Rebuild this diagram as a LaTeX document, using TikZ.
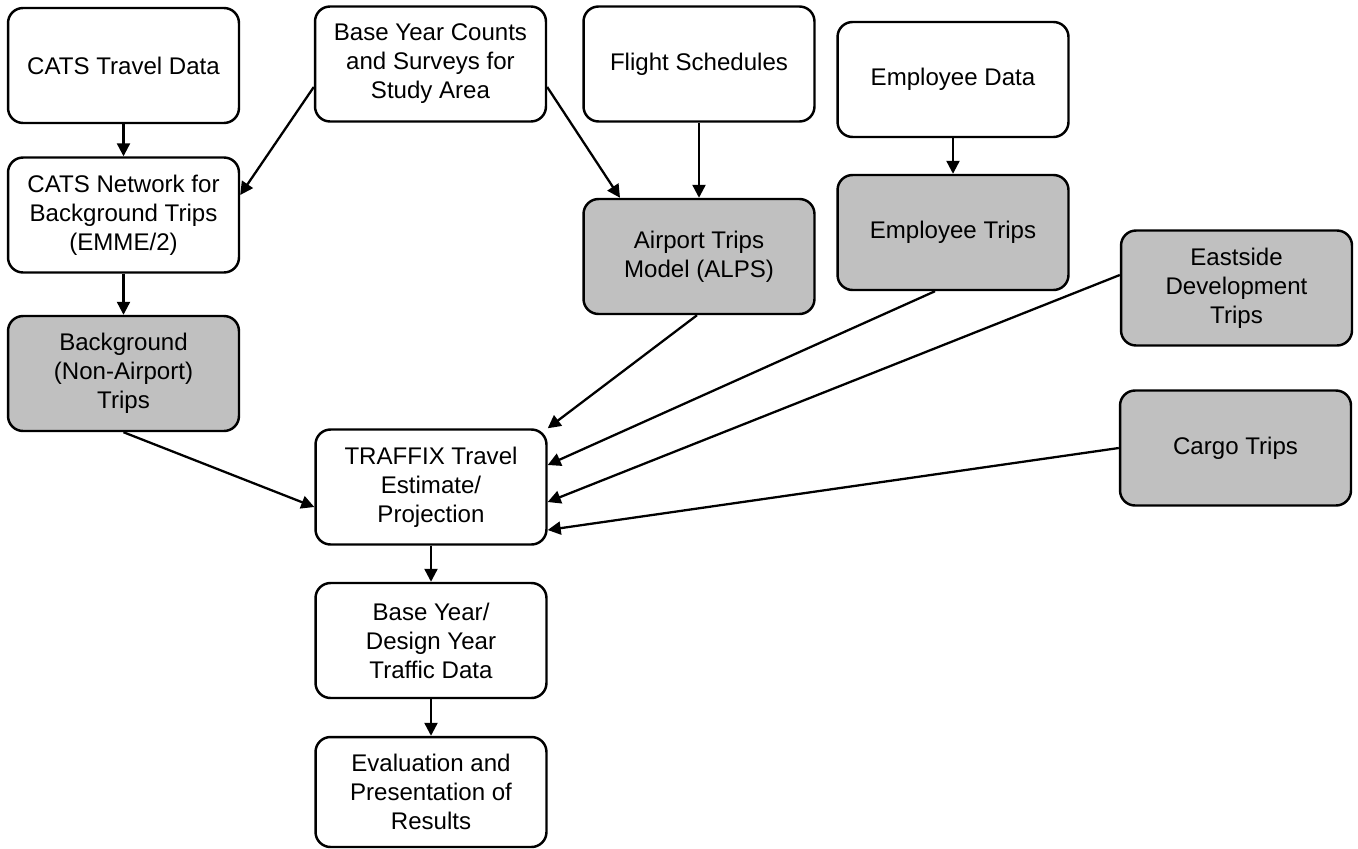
\documentclass[tikz,border=0pt]{standalone}
\usepackage{fontspec}
\setmainfont{Liberation Sans}
\usepackage{xcolor}
\usetikzlibrary{arrows.meta,calc}
\definecolor{boxgrey}{RGB}{192,192,192}
\tikzset{
  flowbox/.style={draw, line width=1.4pt, rounded corners=0.3cm, minimum width=4.62cm,
    minimum height=2.3cm, align=center, inner sep=2pt,
    font=\fontsize{13.7}{16.5}\selectfont},
  tripbox/.style={flowbox, fill=boxgrey},
  flow/.style={-{Triangle[length=0.26cm,width=0.26cm]}, line width=1.3pt}
}

\begin{document}
\begin{tikzpicture}[x=0.02cm, y=-0.02cm]
\useasboundingbox (0,0) rectangle (1358,848);
% inputs
\node[flowbox] (cats) at (123.5,65.5) {CATS Travel Data};
\node[flowbox] (bycounts) at (430.5,64) {Base Year Counts\\and Surveys for\\Study Area};
\node[flowbox] (flights) at (699,64) {Flight Schedules};
\node[flowbox] (empdata) at (953,79.5) {Employee Data};
\node[flowbox] (catsnet) at (123.5,215) {CATS Network for\\Background Trips\\(EMME/2)};
% trip generators
\node[tripbox] (airport) at (699,256.5) {Airport Trips\\Model (ALPS)};
\node[tripbox] (emptrips) at (953,232.5) {Employee Trips};
\node[tripbox] (eastside) at (1236.5,288) {Eastside\\Development\\Trips};
\node[tripbox] (background) at (123.5,373.5) {Background\\(Non-Airport)\\Trips};
\node[tripbox] (cargo) at (1235.5,448) {Cargo Trips};
% outputs
\node[flowbox] (traffix) at (431,487) {TRAFFIX Travel\\Estimate/\\Projection};
\node[flowbox] (baseyear) at (431,640.5) {Base Year/\\Design Year\\Traffic Data};
\node[flowbox, minimum height=2.2cm] (evaluation) at (431,792) {Evaluation and\\Presentation of\\Results};

\draw[flow] (cats) -- (catsnet);
\draw[flow] (catsnet) -- (background);
\draw[flow] ($(bycounts.west)+(0,23)$) -- ($(catsnet.east)+(0,-20)$);
\draw[flow] ($(bycounts.east)+(0,23)$) -- ($(airport.north)+(-79,0)$);
\draw[flow] (flights) -- (airport);
\draw[flow] (empdata) -- (emptrips);
\draw[flow] (background.south) -- ($(traffix.west)+(0,20)$);
\draw[flow] ($(airport.south)+(-2,0)$) -- (traffix.north east);
\draw[flow] ($(emptrips.south)+(-18,0)$) -- ($(traffix.east)+(0,-22)$);
\draw[flow] ($(eastside.west)+(0,-13)$) -- ($(traffix.east)+(0,15)$);
\draw[flow] (cargo.west) -- ($(traffix.east)+(0,43)$);
\draw[flow] (traffix) -- (baseyear);
\draw[flow] (baseyear) -- (evaluation);
\end{tikzpicture}
\end{document}
